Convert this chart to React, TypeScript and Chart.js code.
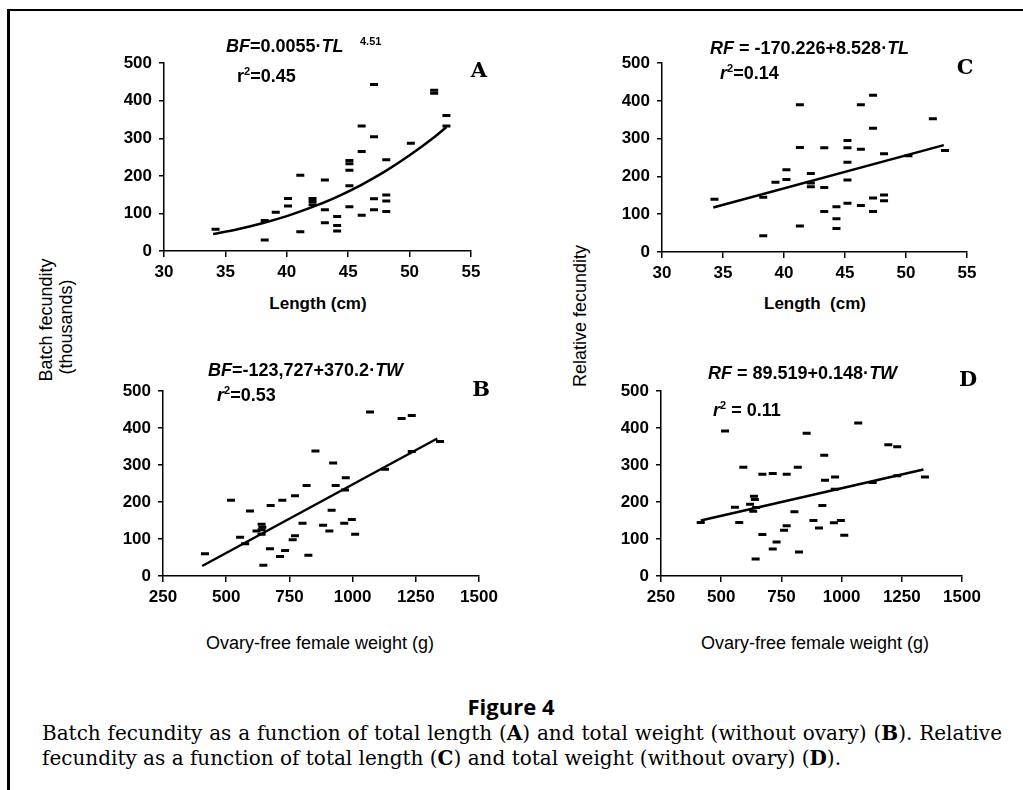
import React, { useEffect, useRef } from 'react';
import { Chart, registerables } from 'chart.js';

Chart.register(...registerables);

// ---------- Panel A: batch fecundity (thousands) vs total length (cm)
const lengthA = [34.2, 38.2, 38.2, 39.1, 40.1, 40.1, 41.1, 41.1, 42.1, 42.1, 42.1, 43.1, 43.1, 43.1, 44.1, 44.1, 44.1, 45.1, 45.1, 45.1, 45.1, 45.1, 46.1, 46.1, 46.1, 47.1, 47.1, 47.1, 47.1, 48.1, 48.1, 48.1, 48.1, 50.1, 52.0, 52.0, 53.0, 53.0];
const batchA = [58, 81, 29, 103, 140, 120, 202, 51, 140, 132, 123, 189, 110, 75, 92, 68, 53, 241, 232, 215, 174, 118, 333, 265, 95, 443, 304, 139, 110, 243, 149, 133, 105, 287, 420, 428, 361, 333];
const curveLengthA = [34, 36, 38, 40, 42, 44, 46, 48, 50, 52, 53];
const curveBatchA = [45, 58, 74, 93, 116, 143, 175, 212, 255, 303, 330];

// ---------- Panel C: relative fecundity vs total length (cm)
const lengthC = [34.3, 38.3, 38.3, 39.3, 40.2, 40.2, 41.3, 41.3, 41.3, 42.2, 42.2, 42.2, 43.3, 43.3, 43.3, 44.3, 44.3, 44.3, 45.2, 45.2, 45.2, 45.2, 45.2, 46.3, 46.3, 46.3, 47.3, 47.3, 47.3, 47.3, 48.2, 48.2, 48.2, 50.2, 52.2, 53.2];
const relC = [140, 145, 43, 185, 218, 192, 390, 277, 69, 208, 183, 173, 276, 171, 107, 120, 88, 62, 295, 276, 238, 191, 129, 390, 272, 123, 415, 328, 143, 107, 260, 151, 136, 255, 353, 269];
const lineLengthC = [34.2, 53.1];
const lineRelC = [118, 283];

// ---------- Panel B: batch fecundity vs ovary-free weight (g)
const weightB = [416, 519, 555, 575, 594, 620, 640, 640, 643, 640, 647, 676, 673, 713, 722, 733, 763, 772, 772, 802, 818, 825, 853, 883, 908, 917, 923, 933, 967, 973, 970, 997, 1010, 1069, 1128, 1194, 1234, 1234, 1346];
const batchB = [60, 205, 105, 87, 176, 122, 140, 125, 132, 113, 29, 191, 74, 53, 205, 69, 98, 109, 217, 143, 245, 56, 338, 137, 122, 178, 306, 245, 143, 266, 233, 153, 113, 444, 289, 426, 434, 337, 364];
const lineWeightB = [405, 1335];
const lineBatchB = [27, 372];

// ---------- Panel D: relative fecundity vs ovary-free weight (g)
const weightD = [415, 516, 557, 575, 592, 620, 636, 640, 633, 645, 643, 671, 671, 714, 714, 730, 761, 772, 772, 804, 818, 823, 855, 883, 906, 920, 928, 931, 973, 972, 968, 997, 1011, 1069, 1129, 1194, 1231, 1231, 1346];
const relD = [145, 392, 186, 145, 294, 194, 216, 207, 175, 185, 46, 275, 112, 277, 73, 92, 124, 136, 275, 174, 294, 65, 386, 150, 130, 191, 327, 259, 268, 235, 144, 150, 110, 414, 253, 355, 350, 271, 268];
const lineWeightD = [415, 1340];
const lineRelD = [150, 288];

// ---------- tick labels
const lengthTicks = [30, 35, 40, 45, 50, 55];
const weightTicks = [250, 500, 750, 1000, 1250, 1500];
const fecundityTicks = [0, 100, 200, 300, 400, 500];

const SANS = "'Liberation Sans', Arial, Helvetica, sans-serif";
const SERIF = "'DejaVu Serif', 'Liberation Serif', serif";

const YW = 70;
const PT = 14;
const PR = 30;
const XH = 40;

type PanelProps = {
  left: number;
  top: number;
  width: number;
  height: number;
  xTicks: number[];
  yTicks: number[];
  px: number[];
  py: number[];
  lx: number[];
  ly: number[];
  curved?: boolean;
};

function Panel(p: PanelProps) {
  const ref = useRef<HTMLCanvasElement | null>(null);
  useEffect(() => {
    if (!ref.current) return;
    const tickFont = { family: SANS, size: 17, weight: 'bold' as const };
    const chart = new Chart(ref.current, {
      type: 'scatter',
      data: {
        datasets: [
          {
            data: p.px.map((x, i) => ({ x, y: p.py[i] })),
            showLine: false,
            pointStyle: 'line',
            pointRadius: 4,
            pointBorderWidth: 3,
            pointBorderColor: '#000',
            pointBackgroundColor: '#000',
          },
          {
            data: p.lx.map((x, i) => ({ x, y: p.ly[i] })),
            showLine: true,
            pointRadius: 0,
            borderColor: '#000',
            borderWidth: 2.5,
            fill: false,
            tension: p.curved ? 0.4 : 0,
            cubicInterpolationMode: p.curved ? 'monotone' : 'default',
          },
        ],
      } as any,
      options: {
        responsive: false,
        animation: false,
        devicePixelRatio: 1,
        events: [],
        layout: { padding: { top: PT, right: PR, left: 0, bottom: 0 } },
        plugins: { legend: { display: false }, tooltip: { enabled: false } },
        scales: {
          x: {
            type: 'linear',
            min: p.xTicks[0],
            max: p.xTicks[p.xTicks.length - 1],
            afterBuildTicks: (s: any) => {
              s.ticks = p.xTicks.map((v) => ({ value: v }));
            },
            afterFit: (s: any) => {
              s.height = XH;
            },
            ticks: {
              color: '#000',
              font: tickFont,
              padding: 5,
              maxRotation: 0,
              autoSkip: false,
              callback: (v: any) => String(v),
            },
            grid: {
              display: true,
              drawOnChartArea: false,
              drawTicks: true,
              tickLength: 6,
              color: '#000',
              lineWidth: 1.5,
            },
            border: { display: true, color: '#000', width: 1.5 },
          },
          y: {
            type: 'linear',
            min: p.yTicks[0],
            max: p.yTicks[p.yTicks.length - 1],
            afterBuildTicks: (s: any) => {
              s.ticks = p.yTicks.map((v) => ({ value: v }));
            },
            afterFit: (s: any) => {
              s.width = YW;
            },
            ticks: {
              color: '#000',
              font: tickFont,
              padding: 7,
              autoSkip: false,
              callback: (v: any) => String(v),
            },
            grid: {
              display: true,
              drawOnChartArea: false,
              drawTicks: true,
              tickLength: 5,
              color: '#000',
              lineWidth: 1.5,
            },
            border: { display: true, color: '#000', width: 1.5 },
          },
        },
      } as any,
    });
    return () => chart.destroy();
  }, []);
  return (
    <canvas
      ref={ref}
      width={YW + p.width + PR}
      height={PT + p.height + XH}
      style={{ position: 'absolute', left: p.left - YW, top: p.top - PT }}
    />
  );
}

type TextProps = {
  x: number;
  y: number;
  anchor?: 'left' | 'center';
  rotate?: boolean;
  style?: React.CSSProperties;
  children: React.ReactNode;
};

function Txt({ x, y, anchor = 'left', rotate = false, style, children }: TextProps) {
  const tx = anchor === 'center' ? '-50%' : '0';
  const transform = rotate
    ? 'translate(-50%, -50%) rotate(-90deg)'
    : `translate(${tx}, -50%)`;
  return (
    <div
      style={{
        position: 'absolute',
        left: x,
        top: y,
        transform,
        whiteSpace: 'nowrap',
        lineHeight: 1,
        color: '#000',
        ...style,
      }}
    >
      {children}
    </div>
  );
}

const eqStyle: React.CSSProperties = { fontFamily: SANS, fontWeight: 'bold', fontSize: 18 };
const letterStyle: React.CSSProperties = { fontFamily: SERIF, fontWeight: 'bold', fontSize: 21 };
const sup: React.CSSProperties = { fontSize: 11, position: 'relative', top: -7 };
const captionStyle: React.CSSProperties = { fontFamily: SERIF, fontSize: 20 };

export default function App() {
  return (
    <div
      style={{
        position: 'absolute',
        left: 0,
        top: 0,
        width: 1023,
        height: 790,
        background: '#fff',
        overflow: 'hidden',
      }}
    >
      {/* frame */}
      <div style={{ position: 'absolute', left: 7, top: 9, width: 1016, height: 2, background: '#000' }} />
      <div style={{ position: 'absolute', left: 7, top: 9, width: 3, height: 781, background: '#000' }} />

      <Panel left={164} top={60} width={307} height={191} xTicks={lengthTicks} yTicks={fecundityTicks}
        px={lengthA} py={batchA} lx={curveLengthA} ly={curveBatchA} curved />
      <Panel left={662} top={60} width={305} height={192} xTicks={lengthTicks} yTicks={fecundityTicks}
        px={lengthC} py={relC} lx={lineLengthC} ly={lineRelC} />
      <Panel left={163} top={388} width={316} height={188} xTicks={weightTicks} yTicks={fecundityTicks}
        px={weightB} py={batchB} lx={lineWeightB} ly={lineBatchB} />
      <Panel left={661} top={388} width={301} height={188} xTicks={weightTicks} yTicks={fecundityTicks}
        px={weightD} py={relD} lx={lineWeightD} ly={lineRelD} />

      {/* equations */}
      <Txt x={226} y={46} style={eqStyle}><i>BF</i>=0.0055·<i>TL</i></Txt>
      <Txt x={360} y={41} style={{ ...eqStyle, fontSize: 11 }}>4.51</Txt>
      <Txt x={237} y={76} style={eqStyle}>r<span style={sup}>2</span>=0.45</Txt>

      <Txt x={710} y={48} style={eqStyle}><i>RF</i> = -170.226+8.528·<i>TL</i></Txt>
      <Txt x={720} y={73} style={eqStyle}><i>r</i><span style={sup}>2</span>=0.14</Txt>

      <Txt x={208} y={370} style={eqStyle}><i>BF</i>=-123,727+370.2·<i>TW</i></Txt>
      <Txt x={217} y={395} style={eqStyle}><i>r</i><span style={sup}>2</span>=0.53</Txt>

      <Txt x={708} y={373} style={eqStyle}><i>RF</i> = 89.519+0.148·<i>TW</i></Txt>
      <Txt x={713} y={410} style={eqStyle}><i>r</i><span style={sup}>2</span> = 0.11</Txt>

      {/* panel letters */}
      <Txt x={479} y={69} anchor="center" style={letterStyle}>A</Txt>
      <Txt x={965} y={66} anchor="center" style={letterStyle}>C</Txt>
      <Txt x={481} y={388} anchor="center" style={letterStyle}>B</Txt>
      <Txt x={968} y={378} anchor="center" style={letterStyle}>D</Txt>

      {/* axis titles */}
      <Txt x={318} y={303} anchor="center" style={{ fontFamily: SANS, fontWeight: 'bold', fontSize: 17 }}>Length (cm)</Txt>
      <Txt x={815} y={303} anchor="center" style={{ fontFamily: SANS, fontWeight: 'bold', fontSize: 17 }}>Length&nbsp; (cm)</Txt>
      <Txt x={320} y={643} anchor="center" style={{ fontFamily: SANS, fontSize: 18 }}>Ovary-free female weight (g)</Txt>
      <Txt x={815} y={643} anchor="center" style={{ fontFamily: SANS, fontSize: 18 }}>Ovary-free female weight (g)</Txt>
      <Txt x={46} y={320} rotate style={{ fontFamily: SANS, fontSize: 18 }}>Batch fecundity</Txt>
      <Txt x={66} y={327} rotate style={{ fontFamily: SANS, fontSize: 18 }}>(thousands)</Txt>
      <Txt x={580} y={316} rotate style={{ fontFamily: SANS, fontSize: 18 }}>Relative fecundity</Txt>

      {/* caption */}
      <Txt x={511} y={706} anchor="center" style={{ fontFamily: "'Open Sans', sans-serif", fontWeight: 'bold', fontSize: 22 }}>Figure 4</Txt>
      <Txt x={42} y={733} style={{ ...captionStyle, width: 960, whiteSpace: 'normal', textAlign: 'justify', textAlignLast: 'justify' }}>
        Batch fecundity as a function of total length (<b>A</b>) and total weight (without ovary) (<b>B</b>). Relative
      </Txt>
      <Txt x={42} y={758} style={captionStyle}>
        fecundity as a function of total length (<b>C</b>) and total weight (without ovary) (<b>D</b>).
      </Txt>
    </div>
  );
}
